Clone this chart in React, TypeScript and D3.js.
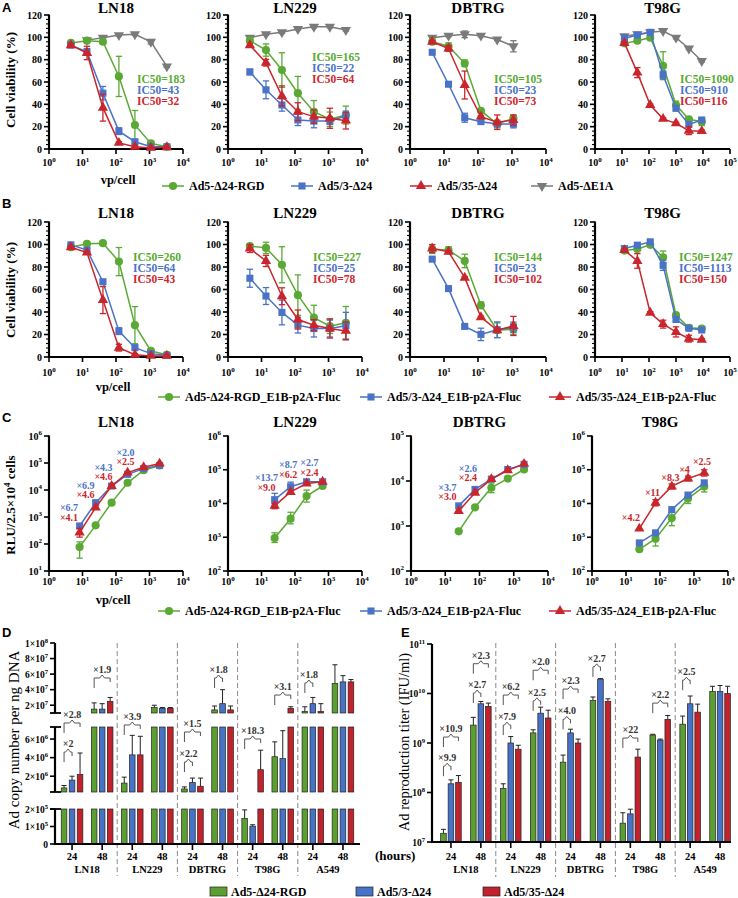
import React from 'react';
import * as d3 from 'd3';

const SERIF = '"Liberation Serif", "Times New Roman", serif';
const SANS = '"Liberation Sans", Arial, sans-serif';
const GREEN = '#5aa935';
const BLUE = '#4a72c6';
const RED = '#c9252c';
const GRAY = '#7a7a7a';
const COLORS = [GREEN, BLUE, RED, GRAY];
const BAR_COLORS = ['#5b9f30', '#4672c7', '#c2222b'];

// ---------- names ----------
const cellLines = ['LN18', 'LN229', 'DBTRG', 'T98G'];
const virusNames = ['Ad5-Δ24-RGD', 'Ad5/3-Δ24', 'Ad5/35-Δ24', 'Ad5-ΔE1A'];
const lucNames = ['Ad5-Δ24-RGD_E1B-p2A-Fluc', 'Ad5/3-Δ24_E1B-p2A-Fluc', 'Ad5/35-Δ24_E1B-p2A-Fluc'];
const cellsDE = ['LN18', 'LN229', 'DBTRG', 'T98G', 'A549'];
const hoursDE = ['24', '48'];

// ---------- doses (vp/cell) ----------
const dose7 = [4.5, 13.6, 40.7, 122, 367, 1100, 3300];
const dose6 = [4.5, 13.6, 40.7, 122, 367, 1100];
const doseT98G = [12.3, 37, 111, 333, 1000, 3000, 9000];
const doseLuc6 = [8.2, 24.7, 74, 222, 667, 2000];
const doseLuc5 = [24.7, 74, 222, 667, 2000];
const doseLuc4 = [24.7, 74, 222, 667];

// ---------- A: viability (%) mean / sd ----------
const A_LN18_RGD = [95, 97, 96, 65, 21.5, 5, 2];
const A_LN18_RGD_SD = [1, 1, 1, 18, 13, 2, 1];
const A_LN18_A53 = [93, 87, 50, 16, 6.5, 2, 2];
const A_LN18_A53_SD = [1, 3, 6, 3, 2, 1, 1];
const A_LN18_A535 = [93, 86, 37, 5.5, 2, 1, 1.5];
const A_LN18_A535_SD = [1, 6, 12, 1, 1, 0.5, 0.5];
const A_LN18_E1A = [97.5, 99.7, 102, 102.7, 96, 74];
const A_LN18_E1A_SD = [1, 1, 1, 1, 2, 1];

const A_LN229_RGD = [97, 88.6, 70.7, 50, 33.4, 26.6, 30.4];
const A_LN229_RGD_SD = [1, 5.5, 15.5, 15, 10, 6.5, 8];
const A_LN229_A53 = [69, 53, 39.4, 26, 25, 25, 29.5];
const A_LN229_A53_SD = [2.5, 8, 5.5, 5, 6, 3, 4.5];
const A_LN229_A535 = [93, 77.3, 47.5, 33.4, 29, 27.5, 25.4];
const A_LN229_A535_SD = [1, 3, 9, 8, 6, 9, 7.5];
const A_LN229_E1A = [99.7, 102.7, 104.5, 107.5, 109.5, 109.5, 106.6];
const A_LN229_E1A_SD = [1, 1, 1, 1, 1, 1, 1];

const A_DBTRG_RGD = [96, 92, 76.7, 34.3, 22.4, 27.5];
const A_DBTRG_RGD_SD = [1, 3, 3, 1, 3.5, 2.5];
const A_DBTRG_A53 = [86.6, 58, 28, 24.5, 22.4, 22.4];
const A_DBTRG_A53_SD = [1, 1, 4, 1, 2, 3.5];
const A_DBTRG_A535 = [96, 90, 57.3, 29, 24, 26];
const A_DBTRG_A535_SD = [1, 2.5, 12.5, 1, 6.5, 4.5];
const A_DBTRG_E1A = [99.7, 101.5, 102.7, 101.5, 98, 92];
const A_DBTRG_E1A_SD = [1, 1, 3, 1, 1, 5];

const A_T98G_RGD = [94.6, 97, 99.7, 74.6, 39.4, 26.6, 24.5];
const A_T98G_RGD_SD = [1, 1, 1, 12.5, 3.5, 1.5, 3.5];
const A_T98G_A53 = [99, 102, 104.5, 66.3, 36.4, 22, 26];
const A_T98G_A53_SD = [3, 1, 1, 3.5, 1.5, 1, 1.5];
const A_T98G_A535 = [95, 68.4, 39.4, 27, 23, 16.4, 16];
const A_T98G_A535_SD = [1, 4.5, 1, 1, 1, 3.5, 1];
const A_T98G_E1A = [101, 102.7, 104.5, 105.7, 99.7, 90, 78.8];
const A_T98G_E1A_SD = [1, 1, 1, 1, 1, 1, 1];

const IC50_A = [['183', '43', '32'], ['165', '22', '64'], ['105', '23', '73'], ['1090', '910', '116']];

// ---------- B: viability with E1B-p2A-Fluc viruses ----------
const B_LN18_RGD = [97.6, 100.6, 101.2, 84.8, 28.3, 5.4, 2];
const B_LN18_RGD_SD = [1, 1, 1, 12.5, 16.5, 2, 1];
const B_LN18_A53 = [99.7, 95, 66.9, 23, 8.3, 3, 1.5];
const B_LN18_A53_SD = [1, 1, 1.5, 3, 2, 1, 0.5];
const B_LN18_A535 = [97.6, 92.8, 50.6, 8.3, 2, 1, 1];
const B_LN18_A535_SD = [1, 1, 12, 3, 1, 0.5, 0.5];

const B_LN229_RGD = [98.5, 97, 82, 55, 35, 27.4, 30.4];
const B_LN229_RGD_SD = [1, 5, 16, 18, 11, 6.5, 14.5];
const B_LN229_A53 = [70, 54.2, 39.6, 28.3, 25.3, 25.3, 27.7];
const B_LN229_A53_SD = [8, 7.5, 11, 7, 7.5, 7.5, 12];
const B_LN229_A535 = [96.4, 85.4, 54, 33.3, 28.3, 25.3, 23.2];
const B_LN229_A535_SD = [3.5, 5, 7.5, 8.5, 5, 8.5, 8];

const B_DBTRG_RGD = [96, 95, 85.4, 46, 23.8, 24.7];
const B_DBTRG_RGD_SD = [4, 3, 6, 3, 6.5, 4.5];
const B_DBTRG_A53 = [87, 60.8, 27.2, 20.1, 24.2, 26.5];
const B_DBTRG_A53_SD = [1, 1, 1, 5.5, 7, 4.5];
const B_DBTRG_A535 = [96.4, 93.5, 70.5, 35.4, 23.8, 27.6];
const B_DBTRG_A535_SD = [3.5, 1, 1, 1, 1, 8.5];

const B_T98G_RGD = [94.6, 96, 99.7, 88.7, 37.2, 26, 25.3];
const B_T98G_RGD_SD = [1, 1, 1, 5.5, 1, 1, 1];
const B_T98G_A53 = [96.4, 99.4, 102.4, 81.5, 33.3, 25.6, 24];
const B_T98G_A53_SD = [1, 1, 1, 4.5, 1, 1, 1];
const B_T98G_A535 = [95, 85.4, 39.3, 29.2, 22.3, 16.3, 15.4];
const B_T98G_A535_SD = [1, 6.5, 1, 3.5, 4.5, 3, 1];

const IC50_B = [['260', '64', '43'], ['227', '25', '78'], ['144', '23', '102'], ['1247', '1113', '150']];

// ---------- C: luciferase RLU (mean, error low, error high) ----------
const C_LN18_RGD = [77, 490, 3400, 18500, 54000, 81000];
const C_LN18_RGD_LO = [30, null, null, null, null, null];
const C_LN18_RGD_HI = [120, null, null, null, null, null];
const C_LN18_A53 = [465, 3400, 14000, 38000, 62000, 81000];
const C_LN18_A535 = [265, 2250, 14000, 44000, 70000, 95000];
const C_LN18_A535_LO = [180, null, null, null, null, null];
const C_LN18_A535_HI = [380, null, null, null, null, null];

const C_LN229_RGD = [950, 3550, 16600, 33000];
const C_LN229_RGD_LO = [700, 2500, 11000, null];
const C_LN229_RGD_HI = [1350, 5500, 25000, null];
const C_LN229_A53 = [13000, 31500, 44000, 44000];
const C_LN229_A53_LO = [9000, 25000, null, null];
const C_LN229_A53_HI = [20000, 43000, null, null];
const C_LN229_A535 = [8500, 22000, 39000, 44000];
const C_LN229_A535_LO = [7000, null, null, null];
const C_LN229_A535_HI = [10000, null, null, null];

const C_DBTRG_RGD = [760, 2600, 7100, 11300, 18000];
const C_DBTRG_RGD_LO = [null, null, 5500, null, null];
const C_DBTRG_RGD_HI = [null, null, 9000, null, null];
const C_DBTRG_A53 = [2800, 6500, 11000, 18000, 23500];
const C_DBTRG_A535 = [2150, 5500, 11000, 17300, 24000];

const C_T98G_RGD = [440, 910, 3700, 14000, 32000];
const C_T98G_RGD_LO = [null, 550, 2200, 10000, 22000];
const C_T98G_RGD_HI = [null, 1300, 5500, 19000, 45000];
const C_T98G_A53 = [680, 1350, 6600, 17800, 41000];
const C_T98G_A535 = [1800, 10500, 32000, 55000, 81000];
const C_T98G_A535_LO = [null, 8500, 27000, 47000, 65000];
const C_T98G_A535_HI = [null, 13000, 38000, 65000, 100000];

// fold-change notes: [text, series, dose, rlu]
const C_NOTES_LN18 = [['×6.7', 1, 3.95, 1700], ['×4.1', 2, 3.95, 690], ['×6.9', 1, 12.3, 11200], ['×4.6', 2, 12.3, 4900],
  ['×4.3', 1, 42.4, 52000], ['×4.6', 2, 42.4, 22800], ['×2.0', 1, 192, 185000], ['×2.5', 2, 192, 83000]];
const C_NOTES_LN229 = [['×13.7', 1, 14.1, 47500], ['×9.0', 2, 14.1, 23000], ['×8.7', 1, 62, 115000], ['×6.2', 2, 62, 56000],
  ['×2.7', 1, 270, 132000], ['×2.4', 2, 270, 63500]];
const C_NOTES_DBTRG = [['×3.7', 1, 11.6, 6100], ['×3.0', 2, 11.6, 3700], ['×2.6', 1, 46, 16100], ['×2.4', 2, 46, 9800]];
const C_NOTES_T98G = [['×4.2', 2, 14, 3030], ['×11', 2, 60, 16700], ['×8.3', 2, 203, 46400], ['×4', 2, 525, 80000], ['×2.5', 2, 1718, 138000]];

// ---------- D: Ad copy number per ng DNA (slots: cell x hours) ----------
const D_RGD = [0.74e6, 1.5e7, 1.26e6, 1.7e7, 0.63e6, 1.4e7, 1.45e5, 4.1e6, 1.2e7, 4.8e7];
const D_RGD_TOP = [1.0e6, 2.3e7, 1.9e6, 2.0e7, 0.85e6, 1.9e7, 1.95e5, 5.7e6, 1.8e7, 7.2e7];
const D_A53 = [1.58e6, 1.5e7, 4.3e6, 1.6e7, 1.33e6, 2.2e7, 1.02e5, 3.9e6, 2.2e7, 5.0e7];
const D_A53_TOP = [2.0e6, 2.2e7, 6.4e6, 1.7e7, 1.8e6, 4.0e7, 1.1e5, 6.9e6, 3.0e7, 5.8e7];
const D_A535 = [2.2e6, 2.5e7, 4.3e6, 1.6e7, 0.92e6, 1.4e7, 2.7e6, 1.6e7, 1.2e7, 5.0e7];
const D_A535_TOP = [4.5e6, 3.0e7, 6.3e6, 1.7e7, 1.8e6, 1.9e7, 4.8e6, 1.8e7, 2.2e7, 5.3e7];
// [slot, compared series, bracket level, label]
const D_BRACKETS = [[0, 1, 4.6e6, '×2'], [0, 2, 8.07e6, '×2.8'], [1, 2, 5.5e7, '×1.9'], [2, 2, 7.69e6, '×3.9'],
  [4, 2, 6.76e6, '×1.5'], [4, 1, 3.53e6, '×2.2'], [5, 1, 5.5e7, '×1.8'], [6, 2, 6.01e6, '×18.3'],
  [7, 2, 3.31e7, '×3.1'], [8, 1, 4.86e7, '×1.8']];

// ---------- E: Ad reproduction titer (IFU/ml) ----------
const E_RGD = [1.5e7, 2.3e9, 1.2e8, 1.6e9, 4.1e8, 7.2e9, 2.4e7, 1.45e9, 2.4e9, 1.1e10];
const E_RGD_TOP = [1.8e7, 3.3e9, 1.5e8, 1.85e9, 5.7e8, 8.5e9, 3.9e7, 1.5e9, 3.5e9, 1.4e10];
const E_A53 = [1.5e8, 6.2e9, 1.0e9, 4.0e9, 1.6e9, 1.95e10, 3.7e7, 1.15e9, 6.2e9, 1.1e10];
const E_A53_TOP = [1.8e8, 6.9e9, 1.35e9, 5.3e9, 1.9e9, 2.0e10, 4.6e7, 1.2e9, 8.9e9, 1.45e10];
const E_A535 = [1.6e8, 5.5e9, 7.5e8, 3.2e9, 1.0e9, 6.9e9, 5.2e8, 3.0e9, 4.2e9, 1.0e10];
const E_A535_TOP = [2.2e8, 6.4e9, 9.0e8, 4.6e9, 1.2e9, 7.8e9, 7.5e8, 3.6e9, 6.1e9, 1.4e10];
const E_BRACKETS = [[0, 1, 3.4e8, '×9.9'], [0, 2, 1.32e9, '×10.9'], [1, 1, 1.02e10, '×2.7'], [1, 2, 4e10, '×2.3'],
  [2, 1, 2.3e9, '×7.9'], [2, 2, 9.3e9, '×6.2'], [3, 1, 7.1e9, '×2.5'], [3, 2, 2.95e10, '×2.0'],
  [4, 1, 3e9, '×4.0'], [4, 2, 1.23e10, '×2.3'], [5, 1, 3.45e10, '×2.7'], [6, 2, 1.26e9, '×22'],
  [7, 2, 6.4e9, '×2.2'], [8, 1, 1.86e10, '×2.5']];

// ---------- helpers ----------
type Ser = { x: number[]; y: number[]; lo: (number | null)[]; hi: (number | null)[]; k: number };
const sd = (x: number[], y: number[], e: number[], k: number): Ser =>
  ({ x, y, lo: y.map((v, i) => v - e[i]), hi: y.map((v, i) => v + e[i]), k });
const rg = (x: number[], y: number[], k: number, lo?: (number | null)[], hi?: (number | null)[]): Ser =>
  ({ x, y, lo: lo || y.map(() => null), hi: hi || y.map(() => null), k });

const SYMS = [
  d3.symbol().type(d3.symbolCircle).size(52)(),
  d3.symbol().type(d3.symbolSquare).size(50)(),
  d3.symbol().type(d3.symbolTriangle).size(46)(),
  d3.symbol().type(d3.symbolTriangle).size(46)(),
];

const plotsA = [
  [sd(dose7.slice(1), A_LN18_E1A, A_LN18_E1A_SD, 3), sd(dose7, A_LN18_RGD, A_LN18_RGD_SD, 0), sd(dose7, A_LN18_A53, A_LN18_A53_SD, 1), sd(dose7, A_LN18_A535, A_LN18_A535_SD, 2)],
  [sd(dose7, A_LN229_E1A, A_LN229_E1A_SD, 3), sd(dose7, A_LN229_RGD, A_LN229_RGD_SD, 0), sd(dose7, A_LN229_A53, A_LN229_A53_SD, 1), sd(dose7, A_LN229_A535, A_LN229_A535_SD, 2)],
  [sd(dose6, A_DBTRG_E1A, A_DBTRG_E1A_SD, 3), sd(dose6, A_DBTRG_RGD, A_DBTRG_RGD_SD, 0), sd(dose6, A_DBTRG_A53, A_DBTRG_A53_SD, 1), sd(dose6, A_DBTRG_A535, A_DBTRG_A535_SD, 2)],
  [sd(doseT98G, A_T98G_E1A, A_T98G_E1A_SD, 3), sd(doseT98G, A_T98G_RGD, A_T98G_RGD_SD, 0), sd(doseT98G, A_T98G_A53, A_T98G_A53_SD, 1), sd(doseT98G, A_T98G_A535, A_T98G_A535_SD, 2)],
];
const plotsB = [
  [sd(dose7, B_LN18_RGD, B_LN18_RGD_SD, 0), sd(dose7, B_LN18_A53, B_LN18_A53_SD, 1), sd(dose7, B_LN18_A535, B_LN18_A535_SD, 2)],
  [sd(dose7, B_LN229_RGD, B_LN229_RGD_SD, 0), sd(dose7, B_LN229_A53, B_LN229_A53_SD, 1), sd(dose7, B_LN229_A535, B_LN229_A535_SD, 2)],
  [sd(dose6, B_DBTRG_RGD, B_DBTRG_RGD_SD, 0), sd(dose6, B_DBTRG_A53, B_DBTRG_A53_SD, 1), sd(dose6, B_DBTRG_A535, B_DBTRG_A535_SD, 2)],
  [sd(doseT98G, B_T98G_RGD, B_T98G_RGD_SD, 0), sd(doseT98G, B_T98G_A53, B_T98G_A53_SD, 1), sd(doseT98G, B_T98G_A535, B_T98G_A535_SD, 2)],
];
const plotsC = [
  [rg(doseLuc6, C_LN18_RGD, 0, C_LN18_RGD_LO, C_LN18_RGD_HI), rg(doseLuc6, C_LN18_A53, 1), rg(doseLuc6, C_LN18_A535, 2, C_LN18_A535_LO, C_LN18_A535_HI)],
  [rg(doseLuc4, C_LN229_RGD, 0, C_LN229_RGD_LO, C_LN229_RGD_HI), rg(doseLuc4, C_LN229_A53, 1, C_LN229_A53_LO, C_LN229_A53_HI), rg(doseLuc4, C_LN229_A535, 2, C_LN229_A535_LO, C_LN229_A535_HI)],
  [rg(doseLuc5, C_DBTRG_RGD, 0, C_DBTRG_RGD_LO, C_DBTRG_RGD_HI), rg(doseLuc5, C_DBTRG_A53, 1), rg(doseLuc5, C_DBTRG_A535, 2)],
  [rg(doseLuc5, C_T98G_RGD, 0, C_T98G_RGD_LO, C_T98G_RGD_HI), rg(doseLuc5, C_T98G_A53, 1), rg(doseLuc5, C_T98G_A535, 2, C_T98G_A535_LO, C_T98G_A535_HI)],
];
const notesC = [C_NOTES_LN18, C_NOTES_LN229, C_NOTES_DBTRG, C_NOTES_T98G];

// layout
const COLS_AB = [[49, 183, 4], [228, 362, 4], [410, 546, 4], [595, 730, 5]];
const COLS_C = [[49, 183, 4], [228, 362, 4], [411, 548, 4], [592, 728, 4]];
const YDEC_C = [[1, 6], [2, 6], [2, 5], [2, 6]];
const IC_POS_A = [[137, 83], [312, 61], [494, 83], [680, 83]];
const IC_POS_B = [[133, 261], [313, 261], [494, 261], [679, 261]];
const IC_COLORS = ['#58ab30', '#4a72c8', '#d0262e'];

function Sup({ x, y, base, exp, anchor = 'middle', size = 10, weight = 'bold' }: any) {
  return (
    <text x={x} y={y} textAnchor={anchor} fontSize={size} fontWeight={weight}>
      {base}<tspan dy={-size * 0.42} fontSize={size * 0.7}>{exp}</tspan>
    </text>
  );
}

function LinePlot(p: any) {
  const { x0, x1, xDec, yBot, yTop, yDec, series, title, titleY, xLabY, ic50, icPos, notes } = p;
  const xs = d3.scaleLog().domain([1, Math.pow(10, xDec)]).range([x0, x1]);
  const ys: any = yDec
    ? d3.scaleLog().domain([Math.pow(10, yDec[0]), Math.pow(10, yDec[1])]).range([yBot, yTop])
    : d3.scaleLinear().domain([0, 120]).range([yBot, yTop]);
  const yMajor = yDec ? d3.range(yDec[0], yDec[1] + 1) : d3.range(0, 121, 20);
  const yMinor = yDec ? [] : d3.range(0, 121, 4).filter((v) => v % 20 !== 0);
  const line = d3.line<number[]>().x((d) => xs(d[0])).y((d) => ys(d[1]));
  return (
    <g>
      <text x={(x0 + x1) / 2} y={titleY} textAnchor="middle" fontSize={15} fontWeight="bold">{title}</text>
      {yMinor.map((v) => (
        <line key={'mn' + v} x1={x0 - 3} x2={x0} y1={ys(v)} y2={ys(v)} stroke="#000" strokeWidth={1.1} />
      ))}
      {yMajor.map((v) => {
        const yy = yDec ? ys(Math.pow(10, v)) : ys(v);
        return (
          <g key={'mj' + v}>
            <line x1={x0 - 5} x2={x0} y1={yy} y2={yy} stroke="#000" strokeWidth={1.6} />
            {yDec
              ? <Sup x={x0 - 7} y={yy + 3.5} base="10" exp={v} anchor="end" size={10} />
              : <text x={x0 - 7} y={yy + 3.5} textAnchor="end" fontSize={10} fontWeight="bold">{v}</text>}
          </g>
        );
      })}
      <line x1={x0} x2={x0} y1={yBot + 1} y2={yTop - 0.5} stroke="#000" strokeWidth={2.2} />
      <line x1={x0 - 1} x2={x1} y1={yBot} y2={yBot} stroke="#000" strokeWidth={2.2} />
      {d3.range(0, xDec + 1).map((k) => (
        <g key={'xt' + k}>
          <line x1={xs(Math.pow(10, k))} x2={xs(Math.pow(10, k))} y1={yBot} y2={yBot + 5} stroke="#000" strokeWidth={1.6} />
          <Sup x={xs(Math.pow(10, k))} y={xLabY} base="10" exp={k} size={10} />
        </g>
      ))}
      {series.map((s: Ser, si: number) => {
        const c = COLORS[s.k];
        const pts = s.x.map((x, i) => [x, s.y[i]]);
        return (
          <g key={'s' + si}>
            <path d={line(pts) || ''} fill="none" stroke={c} strokeWidth={1.5} />
            {pts.map((q, i) => {
              if (s.hi[i] == null) return null;
              const cx = xs(q[0]);
              const yl = ys(s.lo[i]);
              const yh = ys(s.hi[i]);
              return (
                <g key={'e' + i} stroke={c} strokeWidth={1.3}>
                  <line x1={cx} x2={cx} y1={yl} y2={yh} />
                  <line x1={cx - 3.2} x2={cx + 3.2} y1={yl} y2={yl} />
                  <line x1={cx - 3.2} x2={cx + 3.2} y1={yh} y2={yh} />
                </g>
              );
            })}
            {pts.map((q, i) => (
              <path key={'m' + i} d={SYMS[s.k] || ''} fill={c}
                transform={`translate(${xs(q[0])},${ys(q[1])})${s.k === 3 ? ' rotate(180)' : ''}`} />
            ))}
          </g>
        );
      })}
      {ic50 && ic50.map((t: string, i: number) => (
        <text key={'ic' + i} x={icPos[0]} y={icPos[1] + i * 11} fontSize={11.5} fontWeight="bold" fill={IC_COLORS[i]}>IC50={t}</text>
      ))}
      {notes && notes.map((n: any[], i: number) => (
        <text key={'n' + i} x={xs(n[2])} y={ys(n[3])} textAnchor="middle" fontSize={10} fontWeight="bold" fill={COLORS[n[1]]}>{n[0]}</text>
      ))}
    </g>
  );
}

function LegendItem({ x, y, k, label }: any) {
  return (
    <g>
      <line x1={x - 11} x2={x + 11} y1={y} y2={y} stroke={COLORS[k]} strokeWidth={1.5} />
      <path d={SYMS[k] || ''} fill={COLORS[k]} transform={`translate(${x},${y})${k === 3 ? ' rotate(180)' : ''}`} />
      <text x={x + 16} y={y + 4} fontSize={12} fontWeight="bold">{label}</text>
    </g>
  );
}

function Bracket({ xl, xr, y, label }: any) {
  const xm = (xl + xr) / 2;
  const d = `M${xl},${y + 10}V${y}H${xm - 2.5}L${xm},${y - 3}L${xm + 2.5},${y}H${xr}V${y + 4}`;
  return (
    <g>
      <path d={d} fill="none" stroke="#555" strokeWidth={1} />
      <text x={xm} y={y - 5} textAnchor="middle" fontSize={10} fontWeight="bold" fill="#333">{label}</text>
    </g>
  );
}

function sciParts(v: number) {
  const e = Math.floor(Math.log10(v) + 1e-9);
  return [Math.round(v / Math.pow(10, e)), e];
}

function BarGroups({ xb, xo, vals, tops, draw, brackets, ys }: any) {
  return (
    <g>
      {vals.map((arr: number[], k: number) => arr.map((v, i) => {
        const cx = (xb(i) as number) + xb.bandwidth() / 2 + (xo(k) as number);
        const yt = ys(tops[k][i]);
        const yv = ys(v);
        return (
          <g key={k + '-' + i}>
            <line x1={cx} x2={cx} y1={yv} y2={yt} stroke="#222" strokeWidth={1} />
            <line x1={cx - 2.5} x2={cx + 2.5} y1={yt} y2={yt} stroke="#222" strokeWidth={1} />
            {draw(cx, v, k)}
          </g>
        );
      }))}
      {brackets.map((b: any[], j: number) => {
        const c = (xb(b[0]) as number) + xb.bandwidth() / 2;
        return <Bracket key={'b' + j} xl={c + (xo(0) as number)} xr={c + (xo(b[1]) as number)} y={ys(b[2])} label={b[3]} />;
      })}
    </g>
  );
}

function CopyPanel() {
  const xb = d3.scaleBand<number>().domain(d3.range(10)).range([57, 358]);
  const xo = d3.scalePoint<number>().domain([0, 1, 2]).range([-8, 8]);
  const ys = d3.scaleLinear().domain([0, 2e5, 3e5, 7.3e6, 1e7, 1e8]).range([844, 809, 792, 727, 713, 643]);
  const segs = [[0, 2e5], [3e5, 7.3e6], [1e7, 1e8]];
  const ticks = [[0, 1e5, 2e5], [2e6, 4e6, 6e6], [2e7, 4e7, 6e7, 8e7, 1e8]];
  const ax = 55;
  const bw = 5.6;
  const draw = (cx: number, v: number, k: number) => segs.map((s, j) => {
    if (v <= s[0]) return null;
    const yTopSeg = ys(Math.min(v, s[1]));
    return <rect key={'p' + j} x={cx - bw / 2} y={yTopSeg} width={bw} height={ys(s[0]) - yTopSeg}
      fill={BAR_COLORS[k]} stroke="#222" strokeWidth={0.7} />;
  });
  return (
    <g>
      {d3.range(1, 5).map((c) => (
        <line key={'sep' + c} x1={xb(2 * c)} x2={xb(2 * c)} y1={643} y2={876} stroke="#888" strokeWidth={1} strokeDasharray="5,3" />
      ))}
      <BarGroups xb={xb} xo={xo} ys={ys} vals={[D_RGD, D_A53, D_A535]} tops={[D_RGD_TOP, D_A53_TOP, D_A535_TOP]} draw={draw} brackets={D_BRACKETS} />
      {segs.map((s, j) => (
        <g key={'ax' + j}>
          <line x1={ax} x2={ax} y1={ys(s[0])} y2={ys(s[1])} stroke="#000" strokeWidth={2.2} />
          {j > 0 && <line x1={ax - 5} x2={ax + 6} y1={ys(s[0])} y2={ys(s[0])} stroke="#000" strokeWidth={1.8} />}
          {j < 2 && <line x1={ax - 5} x2={ax + 6} y1={ys(s[1])} y2={ys(s[1])} stroke="#000" strokeWidth={1.8} />}
          {ticks[j].map((t) => {
            const [m, e] = t === 0 ? [0, 0] : sciParts(t);
            return (
              <g key={'t' + t}>
                <line x1={ax - 5} x2={ax} y1={ys(t)} y2={ys(t)} stroke="#000" strokeWidth={1.6} />
                {t === 0
                  ? <text x={ax - 7} y={ys(t) + 3.5} textAnchor="end" fontSize={9.5} fontWeight="bold">0</text>
                  : <Sup x={ax - 7} y={ys(t) + 3.5} base={`${m}×10`} exp={e} anchor="end" size={9.5} />}
              </g>
            );
          })}
        </g>
      ))}
      <line x1={ax - 1} x2={360} y1={844} y2={844} stroke="#000" strokeWidth={2.2} />
      {d3.range(10).map((i) => {
        const cx = (xb(i) as number) + xb.bandwidth() / 2;
        return (
          <g key={'xt' + i}>
            <line x1={cx} x2={cx} y1={844} y2={850} stroke="#000" strokeWidth={1.6} />
            <text x={cx} y={860} textAnchor="middle" fontSize={10.5} fontWeight="bold">{hoursDE[i % 2]}</text>
          </g>
        );
      })}
      {cellsDE.map((c, i) => (
        <text key={c} x={xb(2 * i + 1)} y={873} textAnchor="middle" fontSize={10.5} fontWeight="bold">{c}</text>
      ))}
      <text transform="translate(19,740) rotate(-90)" textAnchor="middle" fontSize={15}>Ad copy number per ng DNA</text>
    </g>
  );
}

function TiterPanel() {
  const xb = d3.scaleBand<number>().domain(d3.range(10)).range([436, 735]);
  const xo = d3.scalePoint<number>().domain([0, 1, 2]).range([-7.5, 7.5]);
  const ys = d3.scaleLog().domain([1e7, 1e11]).range([842, 644]);
  const ax = 432;
  const bw = 5.6;
  const draw = (cx: number, v: number, k: number) => (
    <rect x={cx - bw / 2} y={ys(v)} width={bw} height={ys(1e7) - ys(v)} fill={BAR_COLORS[k]} stroke="#222" strokeWidth={0.7} />
  );
  return (
    <g>
      {d3.range(1, 5).map((c) => (
        <line key={'sep' + c} x1={xb(2 * c)} x2={xb(2 * c)} y1={643} y2={877} stroke="#888" strokeWidth={1} strokeDasharray="5,3" />
      ))}
      <BarGroups xb={xb} xo={xo} ys={ys} vals={[E_RGD, E_A53, E_A535]} tops={[E_RGD_TOP, E_A53_TOP, E_A535_TOP]} draw={draw} brackets={E_BRACKETS} />
      <line x1={ax} x2={ax} y1={842} y2={644} stroke="#000" strokeWidth={2.2} />
      <line x1={ax - 1} x2={731} y1={842} y2={842} stroke="#000" strokeWidth={2.2} />
      {d3.range(7, 12).map((e) => (
        <g key={'yt' + e}>
          <line x1={ax - 5} x2={ax} y1={ys(Math.pow(10, e))} y2={ys(Math.pow(10, e))} stroke="#000" strokeWidth={1.6} />
          <Sup x={ax - 7} y={ys(Math.pow(10, e)) + 3.5} base="10" exp={e} anchor="end" size={9.5} />
        </g>
      ))}
      {d3.range(10).map((i) => {
        const cx = (xb(i) as number) + xb.bandwidth() / 2;
        return (
          <g key={'xt' + i}>
            <line x1={cx} x2={cx} y1={842} y2={848} stroke="#000" strokeWidth={1.6} />
            <text x={cx} y={860} textAnchor="middle" fontSize={10.5} fontWeight="bold">{hoursDE[i % 2]}</text>
          </g>
        );
      })}
      {cellsDE.map((c, i) => (
        <text key={c} x={xb(2 * i + 1)} y={873} textAnchor="middle" fontSize={10.5} fontWeight="bold">{c}</text>
      ))}
      <text x={375} y={860} fontSize={13} fontWeight="bold">(hours)</text>
      <text transform="translate(409,742) rotate(-90)" textAnchor="middle" fontSize={14.5}>Ad reproduction titer (IFU/ml)</text>
    </g>
  );
}

export default function App() {
  const rowA = { yBot: 149, yTop: 15, titleY: 13, xLabY: 166 };
  const rowB = { yBot: 357, yTop: 222, titleY: 218, xLabY: 376 };
  const rowC = { yBot: 571, yTop: 436, titleY: 427, xLabY: 585 };
  return (
    <svg width={738} height={898} style={{ position: 'absolute', left: 0, top: 0 }} fontFamily={SERIF}>
      <rect width={738} height={898} fill="#fff" />
      <g fontFamily={SANS} fontWeight="bold" fontSize={13}>
        <text x={2} y={12}>A</text>
        <text x={2} y={208}>B</text>
        <text x={2} y={422}>C</text>
        <text x={2} y={637}>D</text>
        <text x={401} y={637}>E</text>
      </g>

      {plotsA.map((s, i) => (
        <LinePlot key={'A' + i} x0={COLS_AB[i][0]} x1={COLS_AB[i][1]} xDec={COLS_AB[i][2]} {...rowA}
          series={s} title={cellLines[i]} ic50={IC50_A[i]} icPos={IC_POS_A[i]} />
      ))}
      <text transform="translate(15,80) rotate(-90)" textAnchor="middle" fontSize={13} fontWeight="bold">Cell viability (%)</text>
      <text x={118} y={184} textAnchor="middle" fontSize={12.5} fontWeight="bold">vp/cell</text>
      <LegendItem x={173} y={186} k={0} label={virusNames[0]} />
      <LegendItem x={302} y={186} k={1} label={virusNames[1]} />
      <LegendItem x={421} y={186} k={2} label={virusNames[2]} />
      <LegendItem x={542} y={186} k={3} label={virusNames[3]} />

      {plotsB.map((s, i) => (
        <LinePlot key={'B' + i} x0={COLS_AB[i][0]} x1={COLS_AB[i][1]} xDec={COLS_AB[i][2]} {...rowB}
          series={s} title={cellLines[i]} ic50={IC50_B[i]} icPos={IC_POS_B[i]} />
      ))}
      <text transform="translate(15,290) rotate(-90)" textAnchor="middle" fontSize={13} fontWeight="bold">Cell viability (%)</text>
      <text x={113} y={391} textAnchor="middle" fontSize={12.5} fontWeight="bold">vp/cell</text>
      <LegendItem x={169} y={397} k={0} label={lucNames[0]} />
      <LegendItem x={371} y={397} k={1} label={lucNames[1]} />
      <LegendItem x={560} y={397} k={2} label={lucNames[2]} />

      {plotsC.map((s, i) => (
        <LinePlot key={'C' + i} x0={COLS_C[i][0]} x1={COLS_C[i][1]} xDec={COLS_C[i][2]} yDec={YDEC_C[i]} {...rowC}
          series={s} title={cellLines[i]} notes={notesC[i]} />
      ))}
      <text transform="translate(15,505) rotate(-90)" textAnchor="middle" fontSize={13} fontWeight="bold">
        RLU/2.5×10<tspan dy={-5} fontSize={9}>4</tspan><tspan dy={5}> cells</tspan>
      </text>
      <text x={113} y={604} textAnchor="middle" fontSize={12.5} fontWeight="bold">vp/cell</text>
      <LegendItem x={169} y={611} k={0} label={lucNames[0]} />
      <LegendItem x={371} y={611} k={1} label={lucNames[1]} />
      <LegendItem x={560} y={611} k={2} label={lucNames[2]} />

      <CopyPanel />
      <TiterPanel />

      {virusNames.slice(0, 3).map((n, k) => {
        const lx = [210, 356, 483][k];
        return (
          <g key={'bl' + k}>
            <rect x={lx} y={887} width={17} height={9} fill={BAR_COLORS[k]} stroke="#222" strokeWidth={0.7} />
            <text x={lx + 21} y={896} fontSize={12} fontWeight="bold">{n}</text>
          </g>
        );
      })}
    </svg>
  );
}
